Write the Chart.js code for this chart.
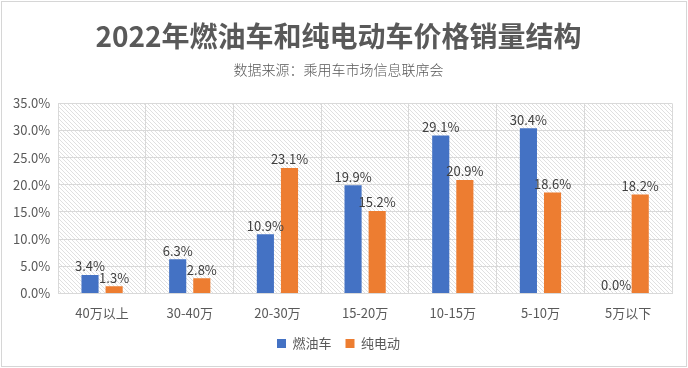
<!DOCTYPE html>
<html>
<head>
<meta charset="utf-8">
<script src="https://cdn.jsdelivr.net/npm/chart.js@4"></script>
<style>
    html, body { margin: 0; padding: 0; background: #fff; }
    #wrap {
        position: absolute; left: 1px; top: 1px;
        width: 684px; height: 364px;
        border: 1px solid #d6d6d6;
        overflow: hidden;
    }
    canvas { display: block; }
</style>
</head>
<body>
<div id="wrap"><canvas id="chart" width="684" height="364"></canvas></div>
<script>
// 价格区间
const categories = ['40万以上', '30-40万', '20-30万', '15-20万', '10-15万', '5-10万', '5万以下'];
// 燃油车 / 纯电动 销量占比 (%)
const fuelValues = [3.4, 6.3, 10.9, 19.9, 29.1, 30.4, 0.0];
const evValues = [1.3, 2.8, 23.1, 15.2, 20.9, 18.6, 18.2];
const seriesNames = ['燃油车', '纯电动'];
const yTicks = [0, 5, 10, 15, 20, 25, 30, 35];

const FONT = '"Noto Sans CJK SC", "Microsoft YaHei", sans-serif';

// 斜线底纹
function makeHatch() {
    const c = document.createElement('canvas');
    c.width = 4; c.height = 4;
    const g = c.getContext('2d');
    g.fillStyle = '#ffffff';
    g.fillRect(0, 0, 4, 4);
    g.fillStyle = '#e0e0e0';
    for (let i = 0; i < 4; i++) g.fillRect(i, i, 1, 1);
    return g.createPattern(c, 'repeat');
}

// 绘图区背景
const plotBackground = {
    id: 'plotBackground',
    beforeDraw(chart) {
        const { ctx, chartArea: a } = chart;
        ctx.save();
        ctx.fillStyle = makeHatch();
        ctx.fillRect(a.left, a.top, a.right - a.left, a.bottom - a.top);
        ctx.restore();
    }
};

// 数据标签
const valueLabels = {
    id: 'valueLabels',
    afterDatasetsDraw(chart) {
        const ctx = chart.ctx;
        ctx.save();
        ctx.font = '13px ' + FONT;
        ctx.fillStyle = '#404040';
        ctx.textAlign = 'center';
        ctx.textBaseline = 'bottom';
        chart.data.datasets.forEach((ds, i) => {
            chart.getDatasetMeta(i).data.forEach((bar, j) => {
                ctx.fillText(ds.data[j].toFixed(1) + '%', bar.x, bar.y - 2);
            });
        });
        ctx.restore();
    }
};

new Chart(document.getElementById('chart'), {
    type: 'bar',
    data: {
        labels: categories,
        datasets: [
            { label: seriesNames[0], data: fuelValues, backgroundColor: '#4472C4' },
            { label: seriesNames[1], data: evValues, backgroundColor: '#ED7D31' }
        ]
    },
    options: {
        responsive: false,
        animation: false,
        devicePixelRatio: 1,
        layout: { padding: { left: 3, right: 14, top: 0, bottom: 6 } },
        datasets: {
            bar: { categoryPercentage: 0.55, barPercentage: 0.71 }
        },
        plugins: {
            title: {
                display: true,
                text: '2022年燃油车和纯电动车价格销量结构',
                color: '#595959',
                font: { family: FONT, size: 28, weight: 'bold' },
                padding: { top: 18, bottom: 8 }
            },
            subtitle: {
                display: true,
                text: '数据来源：乘用车市场信息联席会',
                color: '#595959',
                font: { family: FONT, size: 14, weight: 300 },
                padding: { top: 0, bottom: 25 }
            },
            legend: {
                position: 'bottom',
                labels: {
                    color: '#595959',
                    font: { family: FONT, size: 13 },
                    boxWidth: 9,
                    boxHeight: 9,
                    padding: 14
                }
            },
            tooltip: { enabled: false }
        },
        scales: {
            x: {
                afterFit(scale) { scale.height -= 10; },
                grid: { color: '#d9d9d9', offset: true, drawTicks: false },
                border: { color: '#d9d9d9' },
                ticks: {
                    color: '#595959',
                    font: { family: FONT, size: 13 },
                    padding: 12
                }
            },
            y: {
                min: 0,
                max: 35,
                afterBuildTicks(scale) {
                    scale.ticks = yTicks.map(v => ({ value: v }));
                },
                grid: { color: '#d9d9d9', drawTicks: false },
                border: { color: '#d9d9d9' },
                ticks: {
                    color: '#595959',
                    font: { family: FONT, size: 13 },
                    padding: 8,
                    callback: v => v.toFixed(1) + '%'
                }
            }
        }
    },
    plugins: [plotBackground, valueLabels]
});
</script>
</body>
</html>
